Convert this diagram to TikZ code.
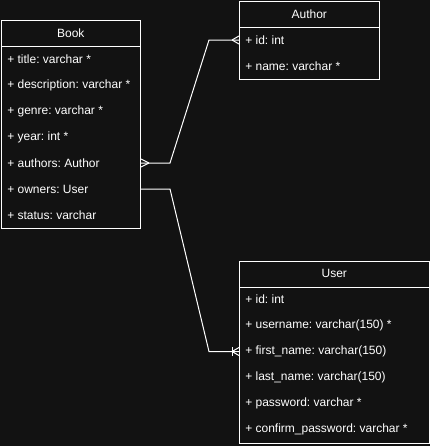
\documentclass[tikz,border=0pt]{standalone}
\usepackage{fontspec}
\setmainfont{Liberation Sans}
\usetikzlibrary{calc}
\definecolor{bg}{HTML}{121212}
\begin{document}
\frenchspacing
\begin{tikzpicture}[x=0.75pt,y=-0.75pt,
  every node/.style={text=white,font=\fontsize{9}{11}\selectfont},
  box/.style={draw=white,line width=0.75pt,fill=bg,anchor=north west,inner sep=0pt,minimum height=#1},
  hdr/.style={anchor=north west,inner sep=0pt,minimum height=19.5pt,align=center},
  row/.style={anchor=west,inner xsep=4.5pt,inner ysep=0pt},
  conn/.style={draw=white,line width=0.75pt},
  lnk/.style={draw=white,line width=0.75pt}]
\fill[bg] (0,0) rectangle (430,446);
\useasboundingbox (0,0) rectangle (430,446);
% Book
\node[box=156pt,minimum width=104.25pt] (book) at (1,20) {};
\node[hdr,minimum width=104.25pt] (bookh) at (1,20) {Book};
\draw[lnk] (bookh.south west) -- (bookh.south east);
\node[row] (b1) at (1,59) {+ title: varchar *};
\node[row] (b2) at (1,85) {+ description: varchar *};
\node[row] (b3) at (1,111) {+ genre: varchar *};
\node[row] (b4) at (1,137) {+ year: int *};
\node[row] (b5) at (1,163) {+ authors: Author};
\node[row] (b6) at (1,189) {+ owners: User};
\node[row] (b7) at (1,215) {+ status: varchar};
% Author
\node[box=58.5pt,minimum width=105pt] (author) at (239,1) {};
\node[hdr,minimum width=105pt] (authorh) at (239,1) {Author};
\draw[lnk] (authorh.south west) -- (authorh.south east);
\node[row] (a1) at (239,40) {+ id: int};
\node[row] (a2) at (239,66) {+ name: varchar *};
% User
\node[box=136.5pt,minimum width=142.5pt] (user) at (239,260.5) {};
\node[hdr,minimum width=142.5pt] (userh) at (239,260.5) {User};
\draw[lnk] (userh.south west) -- (userh.south east);
\node[row] (u1) at (239,299.5) {+ id: int};
\node[row] (u2) at (239,325.5) {+ username: varchar(150) *};
\node[row] (u3) at (239,351.5) {+ first\_name: varchar(150)};
\node[row] (u4) at (239,377.5) {+ last\_name: varchar(150)};
\node[row] (u5) at (239,403.5) {+ password: varchar *};
\node[row] (u6) at (239,429.5) {+ confirm\_password: varchar *};
% end points on box edges
\coordinate (pa) at (b5 -| book.east);
\coordinate (pb) at (a1 -| author.west);
\coordinate (pc) at (b6 -| book.east);
\coordinate (pd) at (u3 -| user.west);
% joints
\coordinate (j1) at (170,0);
\coordinate (j2) at (209,0);
% Book.authors -- Author.id (many to many)
\draw[conn] (pa) -- (pa -| j1) -- (j2 |- pb) -- (pb);
\draw[conn] ($(pa)+(8,0)$) -- ($(pa)+(0,-4)$);
\draw[conn] ($(pa)+(8,0)$) -- ($(pa)+(0,4)$);
\draw[conn] ($(pb)+(-7,0)$) -- ($(pb)+(0,-4)$);
\draw[conn] ($(pb)+(-7,0)$) -- ($(pb)+(0,4)$);
% Book.owners -- User.first_name (one or many)
\draw[conn] (pc) -- (pc -| j1) -- (j2 |- pd) -- (pd);
\draw[conn] ($(pd)+(-7,0)$) -- ($(pd)+(0,-4)$);
\draw[conn] ($(pd)+(-7,0)$) -- ($(pd)+(0,4)$);
\draw[conn] ($(pd)+(-7,-4.5)$) -- ($(pd)+(-7,4.5)$);
\end{tikzpicture}
\end{document}
